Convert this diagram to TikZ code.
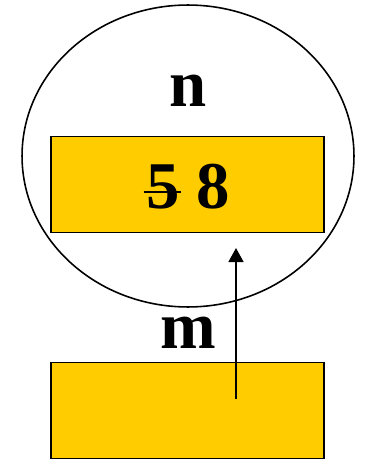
\documentclass[tikz,border=0pt]{standalone}
\usepackage{fontspec}
\setmainfont{Liberation Serif}
\usetikzlibrary{arrows.meta, positioning, shapes.geometric}
\definecolor{cgold}{HTML}{FFCC00}
\definecolor{cink}{HTML}{000000}
\tikzset{
  every picture/.style={font=\bfseries\fontsize{38}{40}\selectfont},
  cell/.style={draw=cink, fill=cgold, line width=1.1pt, minimum width=5.46cm, minimum height=1.92cm, inner sep=0pt},
  scopering/.style={draw=cink, ellipse, line width=0.9pt, minimum width=6.64cm, minimum height=6.04cm, inner sep=0pt},
  varname/.style={inner sep=0pt},
  ptr/.style={-{Triangle[length=8pt, width=8.5pt]}, draw=cink, line width=1.1pt},
}
\newcommand{\crossed}[1]{{\setbox0\hbox{#1}\rlap{\kern-1.5pt\rule[0.24em]{\dimexpr\wd0+2pt\relax}{1.1pt}}\box0}}
\begin{document}
\begin{tikzpicture}[x=0.02cm, y=-0.02cm]
  \useasboundingbox (0,0) rectangle (374,459);

  % variable n inside its scope
  \node[scopering] (ring) at (188,156) {};
  \node[varname] (nname) at (188,91) {n};
  \node[cell] (nbox) at (187.5,184.5) {};
  \node[varname] (nval) at (188,187) {\crossed{5} 8};

  % variable m
  \node[varname] (mname) at (188,333) {m};
  \node[cell] (mbox) at (187.5,410.5) {};

  \coordinate (tail) at (236,399);
  \coordinate (head) at (236,248);
  \draw[ptr] (tail) -- (head);
\end{tikzpicture}
\end{document}
